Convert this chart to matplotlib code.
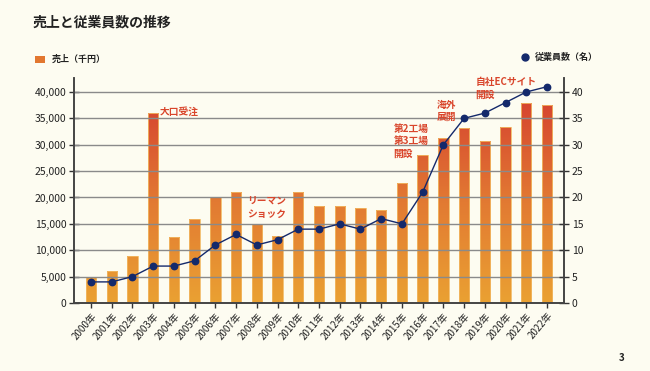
import numpy as np
import matplotlib
matplotlib.use("Agg")
import matplotlib.pyplot as plt
from matplotlib.colors import LinearSegmentedColormap

plt.rcParams['font.family'] = ['Noto Sans CJK JP', 'DejaVu Sans']

years = [f"{y}年" for y in range(2000, 2023)]
sales = [5000, 6000, 9000, 36000, 12500, 16000, 20000, 21000, 15000, 12700,
         21000, 18300, 18300, 18100, 17700, 22800, 28000, 31200, 33200, 30700,
         33300, 38000, 37500]
employees = [4, 4, 5, 7, 7, 8, 11, 13, 11, 12, 14, 14, 15, 14, 16, 15, 21,
             30, 35, 36, 38, 40, 41]
left_ticks = [0, 5000, 10000, 15000, 20000, 25000, 30000, 35000, 40000]
right_ticks = [0, 5, 10, 15, 20, 25, 30, 35, 40]

bg = '#FDFCF1'
red = '#D9452B'
navy = '#14296B'
cmap = LinearSegmentedColormap.from_list('g', ['#EAA132', '#E27A33', '#D6452F'])

fig = plt.figure(figsize=(6.5, 3.71), dpi=100, facecolor=bg)
ax = fig.add_axes([74/650, 1-303/371, (564-74)/650, (303-78)/371])
ax.set_facecolor(bg)
ymax = 42650
x = np.arange(len(years))
ax.set_xlim(-0.82, len(years)-1+0.82)
ax.set_ylim(0, ymax)

bars = ax.bar(x, sales, width=0.5, color='none', edgecolor='none', zorder=2)
grad = np.linspace(0, 1, 256).reshape(-1, 1)
for b in bars:
    im = ax.imshow(grad, cmap=cmap, origin='lower', aspect='auto',
                   extent=[-0.82, len(years)-1+0.82, 0, 38000], zorder=2,
                   vmin=0, vmax=1)
    im.set_clip_path(b)
    b.set_edgecolor('#F2B862')
    b.set_linewidth(0.6)
    b.set_zorder(2.1)
ax.set_xlim(-0.82, len(years)-1+0.82)
ax.set_ylim(0, ymax)

for t in left_ticks[1:]:
    ax.axhline(t, color='#8a8a8a', lw=1.0, zorder=2.5)

ax.set_yticks(left_ticks)
ax.set_yticklabels([f"{v:,}" for v in left_ticks])
ax.set_xticks(x)
ax.set_xticklabels(years, rotation=50, ha='right', rotation_mode='anchor')
ax.tick_params(axis='y', direction='inout', length=7, width=1, color='#333',
               labelsize=7.5, pad=2, labelcolor='#222')
ax.tick_params(axis='x', direction='inout', length=7, width=1, color='#333',
               labelsize=7, pad=2, labelcolor='#222')
for s in ['top']:
    ax.spines[s].set_visible(False)
for s in ['left', 'right', 'bottom']:
    ax.spines[s].set_color('#444')
    ax.spines[s].set_linewidth(1.2)

ax2 = ax.twinx()
ax2.set_ylim(0, ymax/1000)
ax2.plot(x, employees, color=navy, lw=1.0, marker='o', ms=4.6, zorder=5)
ax2.set_yticks(right_ticks)
ax2.tick_params(axis='y', direction='inout', length=7, width=1, color='#333',
                labelsize=7.5, pad=2, labelcolor='#222')
ax2.spines['top'].set_visible(False)
for s in ['left', 'right', 'bottom']:
    ax2.spines[s].set_color('#444')
    ax2.spines[s].set_linewidth(1.2)

# annotations (drawn on the top axes so they sit above bars)
ann = dict(color=red, fontsize=7, fontweight='bold', linespacing=1.3,
           va='bottom', ha='left', zorder=10)
ax2.text(3.3, 35.3, "大口受注", **ann)
ax2.text(7.55, 15.9, "リーマン\nショック", **ann)
ax2.text(14.6, 27.4, "第2工場\n第3工場\n開設", **ann)
ax2.text(16.7, 34.3, "海外\n展開", **ann)
ax2.text(18.55, 38.55, "自社ECサイト\n開設", **ann)

# title and legends
fig.text(33/650, 1-22/371, "売上と従業員数の推移", fontsize=10, fontweight='bold',
         color='#222', va='center', ha='left')
fig.patches.append(plt.Rectangle((35/650, 1-63/371), 10/650, 7/371,
                                 transform=fig.transFigure, facecolor='#E2772F',
                                 edgecolor='none'))
fig.text(52/650, 1-59.5/371, "売上（千円）", fontsize=6.5, fontweight='bold',
         color='#222', va='center', ha='left')
fig.lines.append(plt.Line2D([525/650], [1-57/371], transform=fig.transFigure,
                            marker='o', ms=5, color=navy, ls='none'))
fig.text(535/650, 1-57/371, "従業員数（名）", fontsize=6.5, fontweight='bold',
         color='#222', va='center', ha='left')
fig.text(622/650, 1-358/371, "3", fontsize=7, fontweight='bold', color='#222',
         va='center', ha='center')

fig.savefig('out.png', dpi=100, facecolor=bg)
